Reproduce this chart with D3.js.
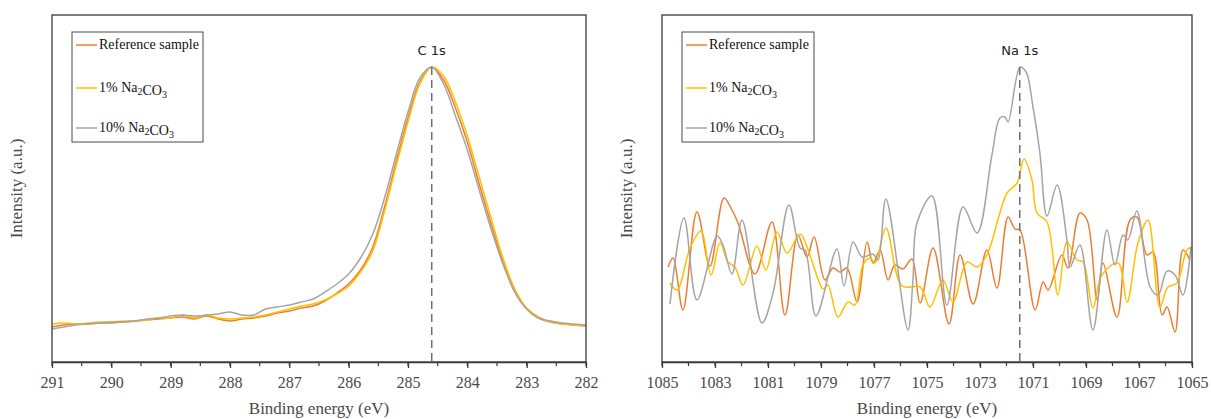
<!DOCTYPE html>
<html>
<head>
<meta charset="utf-8">
<script src="https://cdn.jsdelivr.net/npm/d3@7"></script>
<style>
  body { margin: 0; background: #fff; }
  svg { display: block; }
</style>
</head>
<body>
<svg id="chart" width="1211" height="419"></svg>
<script>
// ---------------- DATA ----------------
// C 1s panel (binding energy, eV) – common energy grid
const c1sEnergy = [291.0,290.8,290.6,290.4,290.2,290.0,289.8,289.6,289.4,289.2,289.0,288.8,288.6,288.4,288.2,288.0,287.8,287.6,287.4,287.2,287.0,286.8,286.6,286.4,286.2,286.0,285.8,285.6,285.4,285.2,285.0,284.8,284.6,284.4,284.2,284.0,283.8,283.6,283.4,283.2,283.0,282.8,282.6,282.4,282.2,282.0];
const c1sReference = [35,37,38,38,39,39,40,41,42,43,44,45,43,46,43,41,43,44,46,49,51,54,56,61,69,78,92,114,154,200,244,280,295,282,254,220,178,138,100,70,53,44,40,38,37,36];
const c1sNa1 = [38,39,38,39,40,40,41,41,42,44,44,47,44,47,44,43,44,45,47,50,53,56,58,62,68,76,90,110,150,196,240,278,295,286,260,226,185,144,104,73,54,45,40,38,37,36];
const c1sNa10 = [33,35,37,38,39,40,40,41,43,44,46,47,46,47,48,50,47,47,53,55,57,60,63,70,78,88,104,127,163,207,250,284,295,278,246,212,172,133,98,70,53,44,41,39,38,37];

// Na 1s panel – each series read on its own energy points
const naRefEnergy = [1084.77,1084.58,1084.21,1083.68,1083.19,1082.66,1082.36,1082.13,1081.49,1080.85,1080.36,1079.87,1079.53,1079.26,1078.85,1078.55,1078.28,1078.02,1077.64,1077.26,1077.04,1076.77,1076.47,1076.21,1075.91,1075.57,1075.26,1074.77,1074.17,1073.75,1073.26,1072.74,1072.36,1071.94,1071.68,1071.49,1070.92,1070.62,1070.43,1069.91,1069.68,1069.23,1068.96,1068.58,1068.36,1067.83,1067.34,1067.08,1066.70,1066.47,1066.13,1065.94,1065.64,1065.34,1065.08];
const naRefValue = [95,104,52,150,96,164,152,139,88,140,47,127,105,125,82,94,90,94,60,120,99,112,82,97,93,103,59,114,38,107,58,112,74,145,133,132,52,80,72,107,94,149,142,62,99,45,142,145,107,110,47,55,30,112,102];

const naNa1Energy = [1084.70,1084.43,1083.94,1083.53,1083.15,1082.81,1082.51,1082.25,1081.94,1081.42,1081.08,1080.66,1080.28,1079.79,1079.42,1078.92,1078.74,1078.36,1077.98,1077.72,1077.42,1077.15,1076.96,1076.55,1075.94,1075.26,1074.89,1074.40,1074.02,1073.49,1073.11,1072.74,1072.25,1071.98,1071.60,1071.34,1071.04,1070.85,1070.47,1070.06,1069.72,1069.34,1069.11,1068.74,1068.40,1067.79,1067.45,1067.04,1066.66,1066.21,1065.91,1065.57,1065.19,1065.00];
const naNa1Value = [79,72,114,131,87,119,100,95,77,116,92,130,109,128,107,73,77,45,60,57,97,104,99,134,76,75,55,82,60,100,95,107,149,169,179,203,182,149,140,67,120,102,100,54,87,99,60,119,142,55,75,79,112,115];

const naNa10Energy = [1084.70,1084.17,1083.68,1082.92,1082.70,1082.36,1081.98,1081.23,1080.81,1080.21,1079.79,1079.60,1079.19,1078.40,1078.13,1077.79,1077.45,1077.04,1076.85,1076.55,1075.72,1075.53,1075.38,1074.81,1074.25,1073.64,1073.11,1072.55,1072.25,1072.06,1071.94,1071.49,1071.26,1071.00,1070.74,1070.47,1070.09,1069.72,1069.60,1069.23,1068.74,1068.21,1067.91,1067.60,1067.42,1067.08,1066.58,1066.28,1065.94,1065.64,1065.34,1065.04];
const naNa10Value = [58,144,62,126,117,88,142,39,69,157,114,112,46,113,76,120,105,108,102,163,32,82,139,166,57,155,129,207,244,245,240,295,290,255,209,146,177,122,95,117,32,132,97,127,122,151,75,67,91,87,67,115];

const seriesNames = ["Reference sample", "1% Na2CO3", "10% Na2CO3"];
const seriesColors = ["#ED7D31", "#FFC000", "#A5A5A5"];
const c1sTicks = [291,290,289,288,287,286,285,284,283,282];
const na1sTicks = [1085,1083,1081,1079,1077,1075,1073,1071,1069,1067,1065];
const peakLabels = ["C 1s", "Na 1s"];
const peakPositions = [284.6, 1071.5];

// ---------------- LAYOUT ----------------
const svg = d3.select("#chart");
const plotTop = 15, plotBottom = 362;
const panels = [
  { x0: 52, x1: 586, domain: [291, 282], ticks: c1sTicks, minor: d3.range(291, 281.99, -0.5),
    series: [[c1sEnergy, c1sReference], [c1sEnergy, c1sNa1], [c1sEnergy, c1sNa10]],
    label: peakLabels[0], peak: peakPositions[0], legendX: 72, legendW: 131 },
  { x0: 662, x1: 1192, domain: [1085, 1065], ticks: na1sTicks, minor: d3.range(1085, 1064.99, -1),
    series: [[naRefEnergy, naRefValue], [naNa1Energy, naNa1Value], [naNa10Energy, naNa10Value]],
    label: peakLabels[1], peak: peakPositions[1], legendX: 682, legendW: 132 }
];

const y = d3.scaleLinear().domain([0, 347]).range([plotBottom, plotTop]);
const serif = "'Liberation Serif', 'Times New Roman', serif";

function addSubText(sel, name) {
  const m = name.match(/^(\d+%\s)(.*)$/);
  if (!m) { sel.text(name); return; }
  sel.append("tspan").text(m[1]);
  m[2].split(/(\d)/).filter(s => s.length).forEach(s => {
    if (/^\d$/.test(s)) {
      sel.append("tspan").attr("font-size", 10).attr("dy", 3).text(s);
      sel.append("tspan").attr("dy", -3).text("");
    } else {
      sel.append("tspan").text(s);
    }
  });
}

panels.forEach((p, pi) => {
  const x = d3.scaleLinear().domain(p.domain).range([p.x0, p.x1]);
  const g = svg.append("g");

  const line = d3.line().curve(d3.curveCatmullRom.alpha(0.5));
  p.series.forEach((s, si) => {
    const pts = s[0].map((e, i) => [x(e), y(s[1][i])]);
    g.append("path")
      .attr("d", line(pts))
      .attr("fill", "none")
      .attr("stroke", seriesColors[si])
      .attr("stroke-width", 1.5);
  });

  g.append("line")
    .attr("x1", x(p.peak)).attr("x2", x(p.peak))
    .attr("y1", y(295)).attr("y2", plotBottom)
    .attr("stroke", "#6f6f6f").attr("stroke-width", 1.5)
    .attr("stroke-dasharray", "8,5");

  g.append("text")
    .attr("x", x(p.peak)).attr("y", 55)
    .attr("text-anchor", "middle")
    .attr("font-family", "'DejaVu Sans', sans-serif")
    .attr("font-size", 13)
    .attr("fill", "#222")
    .text(p.label);

  g.append("rect")
    .attr("x", p.x0).attr("y", plotTop)
    .attr("width", p.x1 - p.x0).attr("height", plotBottom - plotTop)
    .attr("fill", "none").attr("stroke", "#3a3a3a").attr("stroke-width", 1.3);

  g.append("g").selectAll("line").data(p.minor).join("line")
    .attr("x1", d => x(d)).attr("x2", d => x(d))
    .attr("y1", plotBottom).attr("y2", plotBottom + 4)
    .attr("stroke", "#3a3a3a").attr("stroke-width", 1.2);

  const axis = d3.axisBottom(x).tickValues(p.ticks).tickSize(6).tickSizeOuter(0)
    .tickFormat(d3.format("d"));
  const ag = g.append("g").attr("transform", `translate(0,${plotBottom})`).call(axis);
  ag.select(".domain").attr("stroke", "#3a3a3a").attr("stroke-width", 1.5);
  ag.selectAll(".tick line").attr("stroke", "#3a3a3a").attr("stroke-width", 1.3);
  ag.selectAll(".tick text")
    .attr("font-family", serif).attr("font-size", 16).attr("fill", "#4a4a4a")
    .attr("dy", "1.05em");

  g.append("text")
    .attr("x", (p.x0 + p.x1) / 2).attr("y", 414)
    .attr("text-anchor", "middle")
    .attr("font-family", serif).attr("font-size", 17).attr("fill", "#4a4a4a")
    .text("Binding energy (eV)");

  g.append("text")
    .attr("transform", `translate(${p.x0 - 30},${(plotTop + plotBottom) / 2}) rotate(-90)`)
    .attr("text-anchor", "middle")
    .attr("font-family", serif).attr("font-size", 17).attr("fill", "#4a4a4a")
    .text("Intensity (a.u.)");

  const lg = g.append("g");
  lg.append("rect")
    .attr("x", p.legendX).attr("y", 32)
    .attr("width", p.legendW).attr("height", 110)
    .attr("fill", "#fff").attr("stroke", "#4a4a4a").attr("stroke-width", 1);
  const rowY = [45, 88, 128];
  seriesNames.forEach((name, i) => {
    lg.append("line")
      .attr("x1", p.legendX + 4).attr("x2", p.legendX + 25)
      .attr("y1", rowY[i]).attr("y2", rowY[i])
      .attr("stroke", seriesColors[i]).attr("stroke-width", 1.5);
    const t = lg.append("text")
      .attr("x", p.legendX + 27).attr("y", rowY[i] + 4)
      .attr("font-family", serif).attr("font-size", 14).attr("fill", "#111");
    addSubText(t, name);
  });
});
</script>
</body>
</html>
